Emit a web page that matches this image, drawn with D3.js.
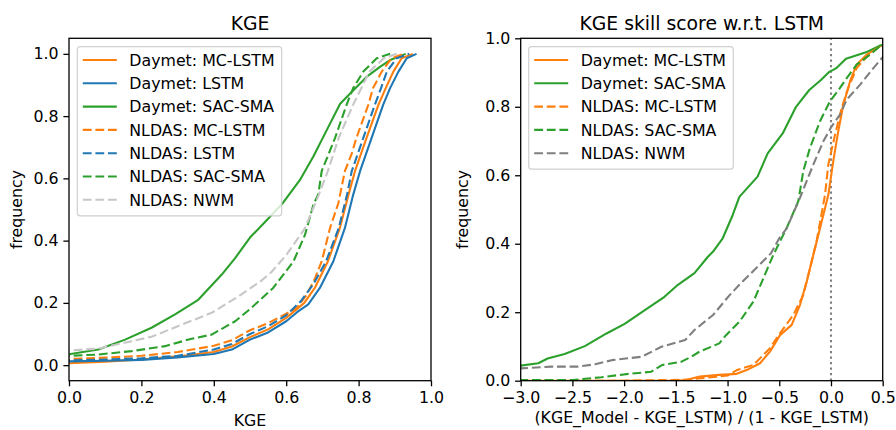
<!DOCTYPE html>
<html>
<head>
<meta charset="utf-8">
<script src="https://cdn.jsdelivr.net/npm/d3@7"></script>
<style>
  html, body { margin: 0; padding: 0; background: #fff; }
  svg { display: block; font-family: "DejaVu Sans", sans-serif; }
</style>
</head>
<body>
<svg id="chart" width="896" height="430"></svg>
<script>
// ---- Left panel: cumulative distribution of KGE (value, frequency) ----
const kgeDaymetMcLstm = [[-0.3,0],[0,0.006],[0.1,0.011],[0.2,0.018],[0.3,0.028],[0.4,0.042],[0.45,0.06],[0.5,0.09],[0.55,0.115],[0.6,0.152],[0.65,0.2],[0.68,0.25],[0.715,0.333],[0.748,0.44],[0.772,0.547],[0.79,0.623],[0.822,0.73],[0.855,0.837],[0.875,0.89],[0.896,0.943],[0.919,0.986],[0.95,1.0]];
const kgeDaymetLstm = [[-0.3,0],[0,0.012],[0.1,0.014],[0.2,0.017],[0.3,0.025],[0.4,0.036],[0.45,0.05],[0.5,0.082],[0.55,0.105],[0.6,0.141],[0.63,0.17],[0.661,0.195],[0.693,0.248],[0.73,0.333],[0.762,0.44],[0.785,0.547],[0.804,0.623],[0.836,0.73],[0.868,0.837],[0.887,0.89],[0.91,0.943],[0.933,0.986],[0.96,1.0]];
const kgeDaymetSacSma = [[-0.3,0.015],[0,0.035],[0.081,0.05],[0.155,0.082],[0.228,0.12],[0.293,0.163],[0.357,0.21],[0.422,0.291],[0.459,0.344],[0.5,0.41],[0.55,0.47],[0.59,0.52],[0.638,0.595],[0.675,0.67],[0.712,0.755],[0.749,0.84],[0.795,0.894],[0.822,0.926],[0.859,0.958],[0.887,0.98],[0.93,1.0]];
const kgeNldasMcLstm = [[-0.3,0],[0,0.02],[0.1,0.024],[0.2,0.03],[0.3,0.042],[0.4,0.062],[0.45,0.08],[0.5,0.112],[0.55,0.135],[0.6,0.165],[0.63,0.185],[0.657,0.227],[0.68,0.28],[0.698,0.333],[0.721,0.44],[0.744,0.52],[0.762,0.623],[0.78,0.676],[0.794,0.73],[0.827,0.837],[0.84,0.89],[0.864,0.943],[0.891,0.986],[0.924,1.0]];
const kgeNldasLstm = [[-0.3,0],[0,0.015],[0.1,0.018],[0.2,0.022],[0.3,0.03],[0.4,0.05],[0.45,0.068],[0.5,0.1],[0.55,0.125],[0.6,0.16],[0.64,0.205],[0.675,0.26],[0.71,0.333],[0.745,0.44],[0.768,0.547],[0.781,0.623],[0.813,0.73],[0.845,0.837],[0.862,0.89],[0.878,0.943],[0.905,0.986],[0.94,1.0]];
const kgeNldasSacSma = [[-0.3,0.015],[0,0.03],[0.08,0.034],[0.173,0.045],[0.265,0.061],[0.339,0.085],[0.394,0.098],[0.459,0.141],[0.5,0.18],[0.564,0.248],[0.62,0.333],[0.652,0.419],[0.675,0.515],[0.689,0.55],[0.698,0.623],[0.735,0.73],[0.767,0.837],[0.785,0.89],[0.813,0.943],[0.85,0.986],[0.887,1.0]];
const kgeNldasNwm = [[-0.3,0.03],[0,0.047],[0.08,0.053],[0.173,0.077],[0.228,0.091],[0.311,0.13],[0.394,0.168],[0.468,0.221],[0.53,0.27],[0.56,0.3],[0.601,0.355],[0.652,0.44],[0.69,0.547],[0.715,0.623],[0.745,0.73],[0.785,0.837],[0.83,0.943],[0.87,0.986],[0.905,1.0]];

// ---- Right panel: cumulative distribution of KGE skill score w.r.t. LSTM ----
const skillDaymetMcLstm = [[-3.5,0],[-1.5,0],[-1.4,0.002],[-1.27,0.012],[-1.08,0.017],[-0.912,0.02],[-0.815,0.031],[-0.686,0.051],[-0.59,0.085],[-0.493,0.133],[-0.38,0.163],[-0.3,0.221],[-0.235,0.289],[-0.171,0.367],[-0.106,0.445],[-0.026,0.542],[0.022,0.641],[0.07,0.728],[0.119,0.806],[0.184,0.874],[0.248,0.923],[0.345,0.952],[0.474,0.977],[0.6,0.99]];
const skillDaymetSacSma = [[-3.5,0.03],[-3,0.044],[-2.83,0.051],[-2.74,0.065],[-2.575,0.078],[-2.38,0.101],[-2.17,0.138],[-1.995,0.166],[-1.8,0.206],[-1.61,0.245],[-1.48,0.28],[-1.32,0.314],[-1.19,0.362],[-1.14,0.377],[-1.047,0.416],[-0.95,0.484],[-0.886,0.537],[-0.71,0.596],[-0.612,0.664],[-0.467,0.722],[-0.338,0.8],[-0.21,0.849],[-0.097,0.878],[-0.016,0.902],[0.048,0.912],[0.145,0.94],[0.338,0.959],[0.467,0.978],[0.6,0.99]];
const skillNldasMcLstm = [[-3.5,0],[-2,0],[-1.4,0.003],[-1.0,0.015],[-0.91,0.031],[-0.75,0.046],[-0.59,0.095],[-0.49,0.14],[-0.364,0.192],[-0.268,0.25],[-0.203,0.328],[-0.14,0.406],[-0.058,0.542],[-0.026,0.631],[0.039,0.718],[0.103,0.796],[0.167,0.855],[0.248,0.913],[0.377,0.957],[0.49,0.98],[0.6,0.99]];
const skillNldasSacSma = [[-3.5,0],[-3,0.002],[-2.5,0.002],[-2.22,0.01],[-1.96,0.02],[-1.74,0.026],[-1.63,0.046],[-1.45,0.055],[-1.35,0.07],[-1.27,0.085],[-1.08,0.109],[-1.015,0.133],[-0.886,0.172],[-0.75,0.231],[-0.654,0.299],[-0.558,0.367],[-0.43,0.445],[-0.316,0.524],[-0.268,0.612],[-0.203,0.68],[-0.106,0.758],[-0.01,0.816],[0.087,0.855],[0.152,0.884],[0.248,0.923],[0.377,0.952],[0.474,0.977],[0.6,0.99]];
const skillNldasNwm = [[-3.5,0.025],[-3,0.036],[-2.7,0.041],[-2.45,0.041],[-2.28,0.048],[-2.12,0.06],[-1.83,0.07],[-1.64,0.099],[-1.41,0.119],[-1.32,0.148],[-1.14,0.192],[-0.98,0.25],[-0.886,0.28],[-0.693,0.338],[-0.58,0.372],[-0.5,0.416],[-0.428,0.445],[-0.3,0.534],[-0.171,0.631],[-0.074,0.699],[0.007,0.743],[0.087,0.777],[0.152,0.821],[0.28,0.864],[0.41,0.913],[0.506,0.947],[0.6,0.97]];

// ---- Tick values and labels ----
const kgeTicks = [0, 0.2, 0.4, 0.6, 0.8, 1.0];
const freqTicks = [0, 0.2, 0.4, 0.6, 0.8, 1.0];
const skillTicks = [-3.0, -2.5, -2.0, -1.5, -1.0, -0.5, 0.0, 0.5];

const C = { orange: "#ff7f0e", blue: "#1f77b4", green: "#2ca02c", lightGray: "#c7c7c7", gray: "#7f7f7f" };
const DASH = "8.8,3.8";

const leftSeries = [
  { label: "Daymet: MC-LSTM", data: kgeDaymetMcLstm, color: C.orange, dash: null },
  { label: "Daymet: LSTM", data: kgeDaymetLstm, color: C.blue, dash: null },
  { label: "Daymet: SAC-SMA", data: kgeDaymetSacSma, color: C.green, dash: null },
  { label: "NLDAS: MC-LSTM", data: kgeNldasMcLstm, color: C.orange, dash: DASH },
  { label: "NLDAS: LSTM", data: kgeNldasLstm, color: C.blue, dash: DASH },
  { label: "NLDAS: SAC-SMA", data: kgeNldasSacSma, color: C.green, dash: DASH },
  { label: "NLDAS: NWM", data: kgeNldasNwm, color: C.lightGray, dash: DASH }
];
const rightSeries = [
  { label: "Daymet: MC-LSTM", data: skillDaymetMcLstm, color: C.orange, dash: null },
  { label: "Daymet: SAC-SMA", data: skillDaymetSacSma, color: C.green, dash: null },
  { label: "NLDAS: MC-LSTM", data: skillNldasMcLstm, color: C.orange, dash: DASH },
  { label: "NLDAS: SAC-SMA", data: skillNldasSacSma, color: C.green, dash: DASH },
  { label: "NLDAS: NWM", data: skillNldasNwm, color: C.gray, dash: DASH }
];

const svg = d3.select("#chart");
const TICK_FONT = 15.8, TITLE_FONT = 18.8;
const fmt1 = v => d3.format(".1f")(v).replace("-", "\u2212");

function panel(opts) {
  const { id, left, right, top, bottom, xDomain, yDomain, xTicks, yTicks, series, title, xLabel, xLabelY, yLabelX, legend, extra } = opts;
  const x = d3.scaleLinear().domain(xDomain).range([left, right]);
  const y = d3.scaleLinear().domain(yDomain).range([bottom, top]);
  const g = svg.append("g");

  g.append("clipPath").attr("id", id).append("rect")
    .attr("x", left).attr("y", top).attr("width", right - left).attr("height", bottom - top);

  const plot = g.append("g").attr("clip-path", `url(#${id})`);
  if (extra) extra(plot, x, y);

  const line = d3.line().x(d => x(d[0])).y(d => y(d[1]));
  plot.selectAll("path.series").data(series).join("path")
    .attr("class", "series")
    .attr("d", d => line(d.data))
    .attr("fill", "none")
    .attr("stroke", d => d.color)
    .attr("stroke-width", 2.1)
    .attr("stroke-dasharray", d => d.dash)
    .attr("stroke-linejoin", "round");

  // axes
  const xAxis = d3.axisBottom(x).tickValues(xTicks).tickFormat(fmt1).tickSize(5.6).tickPadding(5.2);
  const yAxis = d3.axisLeft(y).tickValues(yTicks).tickFormat(fmt1).tickSize(5.6).tickPadding(4.8);
  const ax = g.append("g").attr("transform", `translate(0,${bottom})`).call(xAxis);
  const ay = g.append("g").attr("transform", `translate(${left},0)`).call(yAxis);
  [ax, ay].forEach(a => {
    a.select(".domain").remove();
    a.selectAll("line").attr("stroke", "#000").attr("stroke-width", 1.3);
    a.selectAll("text").attr("fill", "#000").style("font-size", TICK_FONT + "px").style("font-family", "DejaVu Sans");
  });

  // frame
  g.append("rect").attr("x", left).attr("y", top).attr("width", right - left).attr("height", bottom - top)
    .attr("fill", "none").attr("stroke", "#000").attr("stroke-width", 1.3);

  // titles and labels
  g.append("text").attr("x", (left + right) / 2).attr("y", 29.5).attr("text-anchor", "middle")
    .style("font-size", TITLE_FONT + "px").text(title);
  g.append("text").attr("x", (left + right) / 2).attr("y", xLabelY).attr("text-anchor", "middle")
    .style("font-size", TICK_FONT + "px").text(xLabel);
  g.append("text").attr("transform", `translate(${yLabelX},${(top + bottom) / 2}) rotate(-90)`)
    .attr("text-anchor", "middle").style("font-size", TICK_FONT + "px").text("frequency");

  // legend
  const lg = g.append("g");
  const rowH = 23.3;
  lg.append("rect").attr("x", legend.x).attr("y", legend.y)
    .attr("width", legend.w).attr("height", series.length * rowH + 6)
    .attr("rx", 3).attr("fill", "#fff").attr("fill-opacity", 0.8)
    .attr("stroke", "#d0d0d0").attr("stroke-width", 1.2);
  series.forEach((s, i) => {
    const cy = legend.y + 13.3 + i * rowH;
    lg.append("line").attr("x1", legend.x + 5.5).attr("x2", legend.x + 39.5)
      .attr("y1", cy).attr("y2", cy)
      .attr("stroke", s.color).attr("stroke-width", 2.1).attr("stroke-dasharray", s.dash);
    lg.append("text").attr("x", legend.x + 52).attr("y", cy + 5.7)
      .style("font-size", TICK_FONT + "px").text(s.label);
  });
}

panel({
  id: "clipLeft", left: 69, right: 431, top: 38.3, bottom: 380.7,
  xDomain: [0, 1], yDomain: [-0.05, 1.05], xTicks: kgeTicks, yTicks: freqTicks,
  series: leftSeries, title: "KGE", xLabel: "KGE", xLabelY: 426, yLabelX: 21.5,
  legend: { x: 77.3, y: 46.7, w: 204.4 }
});

panel({
  id: "clipRight", left: 520.7, right: 882.7, top: 38.3, bottom: 380.7,
  xDomain: [-3, 0.5], yDomain: [0, 1], xTicks: skillTicks, yTicks: freqTicks,
  series: rightSeries, title: "KGE skill score w.r.t. LSTM",
  xLabel: "(KGE_Model - KGE_LSTM) / (1 - KGE_LSTM)", xLabelY: 422.5, yLabelX: 467.5,
  legend: { x: 528.7, y: 46.7, w: 204.6 },
  extra: (plot, x, y) => {
    // reference line at zero skill
    plot.append("line").attr("x1", x(0)).attr("x2", x(0)).attr("y1", y(0)).attr("y2", y(1))
      .attr("stroke", C.gray).attr("stroke-width", 2.1).attr("stroke-dasharray", "2.1,3.4");
  }
});
</script>
</body>
</html>
